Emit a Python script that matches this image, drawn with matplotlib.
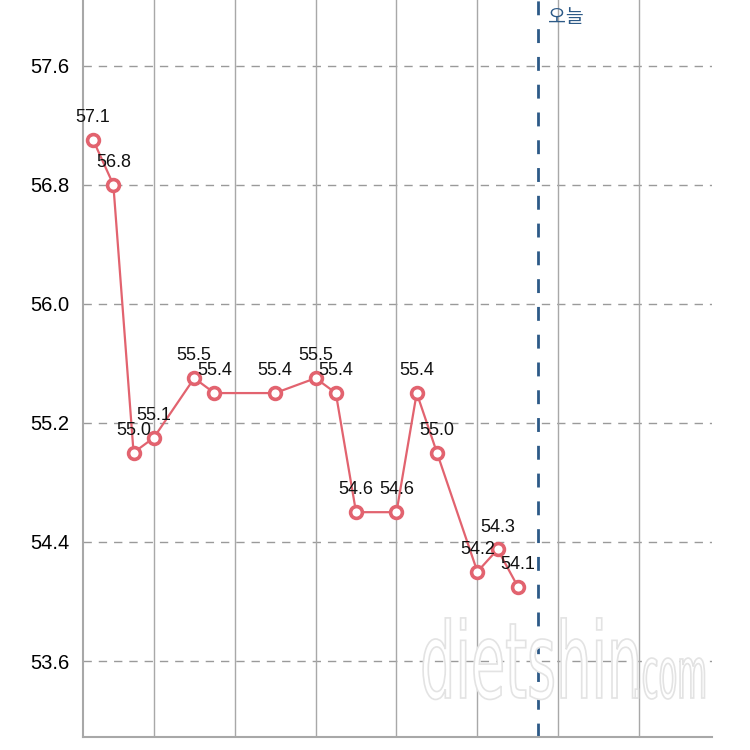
#!/usr/bin/env python3

import matplotlib.pyplot as plt
from matplotlib.textpath import TextPath
from matplotlib.patches import PathPatch
from matplotlib.font_manager import FontProperties
from matplotlib.transforms import Affine2D, IdentityTransform

plt.rcParams['font.family'] = ['Liberation Sans', 'Noto Sans CJK KR', 'DejaVu Sans']

# day offsets (gridlines every 4 days) and weights
days = [-3, -2, -1, 0, 2, 3, 6, 8, 9, 10, 12, 13, 14, 16, 17, 18]
weights = [57.1, 56.8, 55.0, 55.1, 55.5, 55.4, 55.4, 55.5, 55.4,
           54.6, 54.6, 55.4, 55.0, 54.2, 54.35, 54.1]
labels = ['57.1', '56.8', '55.0', '55.1', '55.5', '55.4', '55.4', '55.5', '55.4',
          '54.6', '54.6', '55.4', '55.0', '54.2', '54.3', '54.1']
today = 19
today_label = '오늘'
yticks = [53.6, 54.4, 55.2, 56.0, 56.8, 57.6]
xgrid = [0, 4, 8, 12, 16, 20, 24]

red = '#e2636f'

fig = plt.figure(figsize=(7.5, 7.5), dpi=100)
ax = fig.add_axes([83 / 750, 13 / 750, 629 / 750, 737 / 750])

ax.set_xlim(-3.5, 27.6)
ax.set_ylim(53.09, 58.04)

for y in yticks:
    ax.axhline(y, color='#9a9a9a', lw=1, dashes=(6, 5), zorder=1)
for x in xgrid:
    ax.axvline(x, color='#a8a8a8', lw=1, zorder=1)
ax.axvline(today, color='#2d5a87', lw=2, dashes=(5, 5), zorder=2)
ax.text(today + 0.5, 57.92, today_label, color='#2d5a87', fontsize=14,
        family=['Noto Sans CJK KR', 'DejaVu Sans'], va='center', ha='left')

ax.plot(days, weights, color=red, lw=1.6, marker='o', ms=8.5,
        mfc='white', mec=red, mew=2.6, zorder=4)
for d, w, t in zip(days, weights, labels):
    ax.annotate(t, (d, w), xytext=(0, 10), textcoords='offset points',
                ha='center', va='bottom', fontsize=13, color='#111111', zorder=5)

ax.set_yticks(yticks)
ax.set_yticklabels([f'{v:.1f}' for v in yticks], fontsize=14.5)
ax.set_xticks([])
ax.tick_params(axis='y', length=0, pad=10)
for s in ['top', 'right']:
    ax.spines[s].set_visible(False)
for s in ['left', 'bottom']:
    ax.spines[s].set_color('#a8a8a8')
    ax.spines[s].set_linewidth(1.5)

# faint watermark
fp = FontProperties(family='DejaVu Sans')
for txt, x0, y0, sx, sy in [('dietshin', 420, 52, 0.82, 1.55), ('.com', 632, 52, 0.45, 1.05)]:
    tp = TextPath((0, 0), txt, size=68, prop=fp)
    tr = Affine2D().scale(sx, sy).translate(x0, y0)
    patch = PathPatch(tr.transform_path(tp), facecolor='white', edgecolor='#e3e3e3',
                      lw=1.2, transform=IdentityTransform(), zorder=3)
    fig.add_artist(patch)

fig.savefig('out.png', dpi=100)
